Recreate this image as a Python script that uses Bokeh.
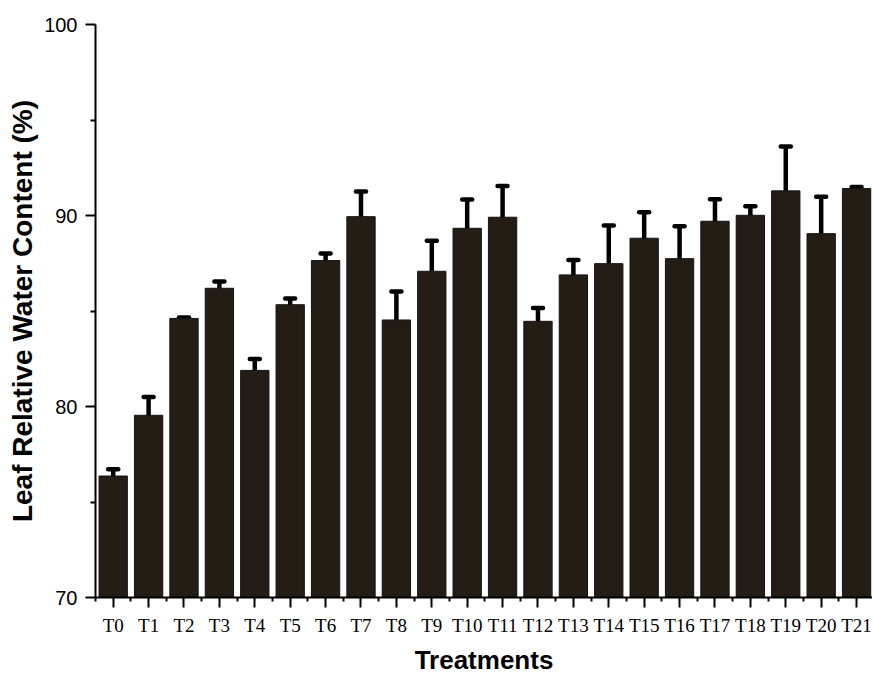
from bokeh.plotting import figure
from bokeh.models import Range1d, FixedTicker, Whisker, TeeHead, ColumnDataSource
from bokeh.embed import file_html
from bokeh.resources import INLINE

treatments = ["T0", "T1", "T2", "T3", "T4", "T5", "T6", "T7", "T8", "T9", "T10",
              "T11", "T12", "T13", "T14", "T15", "T16", "T17", "T18", "T19", "T20", "T21"]
values = [76.36, 79.54, 84.61, 86.19, 81.89, 85.33, 87.64, 89.94, 84.53, 87.08, 89.33,
          89.91, 84.46, 86.89, 87.48, 88.81, 87.74, 89.70, 90.01, 91.29, 89.05, 91.41]
errors = [0.35, 0.96, 0.05, 0.35, 0.60, 0.32, 0.37, 1.32, 1.49, 1.60, 1.51,
          1.63, 0.70, 0.78, 2.00, 1.36, 1.70, 1.15, 0.48, 2.32, 1.93, 0.08]
y_ticks = [70, 80, 90, 100]
y_minor = [75, 85, 95]

positions = list(range(len(treatments)))
src = ColumnDataSource(dict(
    x=positions,
    top=values,
    upper=[v + e for v, e in zip(values, errors)],
    lower=[v - e for v, e in zip(values, errors)],
))

p = figure(frame_width=777, frame_height=573,
           x_range=Range1d(-0.5, 21.45), y_range=Range1d(70, 100),
           output_backend="svg", toolbar_location=None,
           min_border_left=95, min_border_right=0, min_border_top=24, min_border_bottom=75)
p.background_fill_color = "white"
p.border_fill_color = "white"
p.outline_line_color = None
p.xgrid.visible = False
p.ygrid.visible = False

p.vbar(x="x", top="top", bottom=70, width=0.8, source=src,
       fill_color="#241d16", line_color="#141414", line_width=1)

wh = Whisker(base="x", upper="upper", lower="lower", source=src,
             line_color="black", line_width=4.5,
             upper_head=TeeHead(size=10, line_width=4.5, line_color="black", line_cap="round"),
             lower_head=TeeHead(size=10, line_width=4.5, line_color="black", line_cap="round"))
p.add_layout(wh)

p.xaxis.ticker = FixedTicker(ticks=positions, minor_ticks=[i + 0.5 for i in range(-1, 22)])
p.xaxis.major_label_overrides = {i: t for i, t in enumerate(treatments)}
p.yaxis.ticker = FixedTicker(ticks=y_ticks, minor_ticks=y_minor)

for ax in (p.xaxis[0], p.yaxis[0]):
    ax.axis_line_width = 2
    ax.axis_line_color = "black"
    ax.major_tick_line_width = 2
    ax.minor_tick_line_width = 2
    ax.major_tick_line_color = "black"
    ax.minor_tick_line_color = "black"
    ax.major_tick_in = 0
    ax.major_tick_out = 10
    ax.minor_tick_in = 0
    ax.major_label_text_color = "black"
    ax.axis_label_text_color = "black"
    ax.axis_label_text_font = "Liberation Sans"
    ax.axis_label_text_font_style = "bold"

p.xaxis.minor_tick_out = 4
p.yaxis.minor_tick_out = 5

p.xaxis.major_label_text_font = "Liberation Serif"
p.xaxis.major_label_text_font_size = "19px"
p.xaxis.major_label_standoff = 7
p.xaxis.axis_label = "Treatments"
p.xaxis.axis_label_text_font_size = "26px"
p.xaxis.axis_label_standoff = 6

p.yaxis.major_label_text_font = "Liberation Sans"
p.yaxis.major_label_text_font_size = "20px"
p.yaxis.major_label_standoff = 8
p.yaxis.axis_label = "Leaf Relative Water Content (%)"
p.yaxis.axis_label_text_font_size = "28px"
p.yaxis.axis_label_standoff = 3

open("out.html", "w").write(file_html(p, INLINE))
